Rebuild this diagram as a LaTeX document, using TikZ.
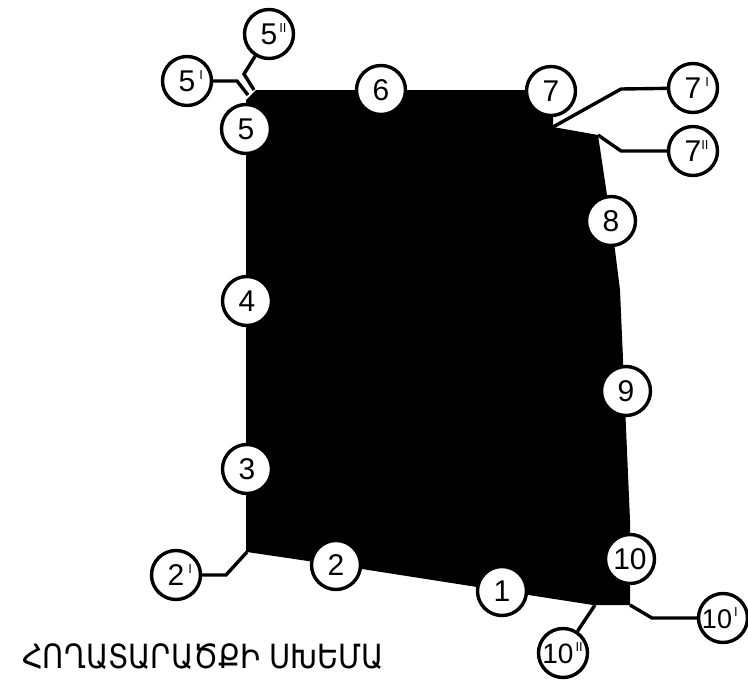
\documentclass[tikz,border=0pt]{standalone}
\usepackage{fontspec}
\usepackage{graphicx}
\setmainfont{Liberation Sans}
\newfontfamily\armfont{DejaVu Sans}
\tikzset{
  num/.style={circle,draw=black,fill=white,line width=3.4pt,minimum size=49pt,inner sep=0pt,font=\fontsize{30}{30}\selectfont},
  lead/.style={draw=black,line width=3.4pt,line join=miter},
}
\newcommand{\supmark}[2]{\rlap{\kern#1pt\raisebox{12pt}{\fontsize{13}{13}\selectfont #2}}}
\begin{document}
\begin{tikzpicture}[x=1pt,y=-1pt]
\useasboundingbox (0,0) rectangle (748,680);
\fill[black] (246,100) -- (256,90) -- (553,90) -- (553,127) -- (598,135) -- (607,195) -- (615,250) -- (620,290) -- (630,520) -- (630,605) -- (593,605) -- (477,587) -- (362,569) -- (247,552) -- (246,552) -- cycle;
\coordinate (a5a) at (248,95);
\coordinate (b5a) at (237,81);
\coordinate (a5b) at (254,90);
\coordinate (b5b) at (244,74);
\coordinate (a7a) at (553,127);
\coordinate (b7a) at (621,89);
\coordinate (a7b) at (598,135);
\coordinate (b7b) at (621,151);
\coordinate (a2) at (247,552);
\coordinate (b2) at (226,575);
\coordinate (a10a) at (630,605);
\coordinate (b10a) at (652,618);
\coordinate (a10b) at (595,605);
\node[num] (n1) at (502,591) {1};
\node[num] (n2) at (336,565) {2};
\node[num] (n2i) at (176,575) {2\supmark{4}{I}};
\node[num] (n3) at (247,469) {3};
\node[num] (n4) at (247,301) {4};
\node[num] (n5) at (246,129) {5};
\node[num] (n5i) at (187,81) {5\supmark{4}{I}};
\node[num] (n5ii) at (269,34) {5\supmark{2}{II}};
\node[num] (n6) at (381,90) {6};
\node[num] (n7) at (551,91) {7};
\node[num] (n7i) at (693,88) {7\supmark{4}{I}};
\node[num] (n7ii) at (693,151) {7\supmark{0}{II}};
\node[num] (n8) at (611,221) {8};
\node[num] (n9) at (626,391) {9};
\node[num] (n10) at (630,559) {10};
\node[num] (n10i) at (723,618) {\fontsize{27}{27}\selectfont 10\kern12pt\supmark{-10}{I}};
\node[num] (n10ii) at (563,653) {\fontsize{28}{28}\selectfont 10\kern10pt\supmark{-8}{II}};
\draw[lead] (a5a) -- (b5a) -- (n5i);
\draw[lead] (a5b) -- (b5b) -- (n5ii);
\draw[lead] (a7a) -- (b7a) -- (n7i);
\draw[lead] (a7b) -- (b7b) -- (n7ii);
\draw[lead] (a2) -- (b2) -- (n2i);
\draw[lead] (a10a) -- (b10a) -- (n10i);
\draw[lead] (a10b) -- (n10ii);
\node[anchor=west,inner sep=0pt,font=\armfont\fontsize{29}{29}\selectfont] (title) at (22,657) {\scalebox{1}[1.15]{ՀՈՂԱՏԱՐԱԾՔԻ ՍԽԵՄԱ}};
\end{tikzpicture}
\end{document}
